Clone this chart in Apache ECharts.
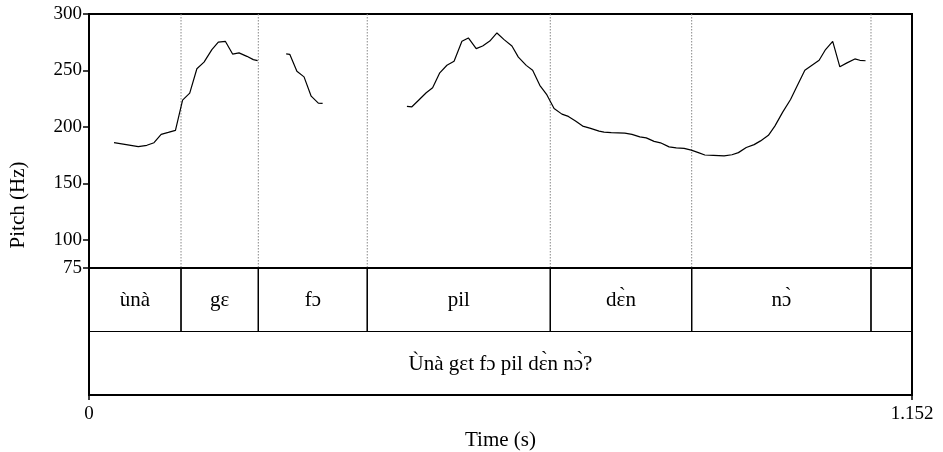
<!DOCTYPE html>
<html>
<head>
<meta charset="utf-8">
<script src="https://cdn.jsdelivr.net/npm/echarts@6/dist/echarts.min.js"></script>
<style>
html,body{margin:0;padding:0;background:#fff;}
#chart{width:943px;height:452px;}
</style>
</head>
<body>
<div id="chart"></div>
<script>
// ---- data ----
const timeMax = 1.152;
const yTicks = [75, 100, 150, 200, 250, 300];
const xTicks = [0, 1.152];

// pitch contour segments: [time (s), pitch (Hz)]
const pitchSeg1 = [[0.035,186.0],[0.050,184.5],[0.069,182.5],[0.081,183.7],[0.091,186.0],[0.101,193.4],[0.111,195.1],[0.121,196.9],[0.131,223.7],[0.141,229.9],[0.151,251.5],[0.161,257.4],[0.172,268.5],[0.181,275.1],[0.191,275.7],[0.201,264.5],[0.210,265.6],[0.221,262.5],[0.230,259.6],[0.236,258.7]];
const pitchSeg2 = [[0.276,264.7],[0.281,264.3],[0.291,249.2],[0.301,244.3],[0.311,227.2],[0.321,221.0],[0.327,220.8]];
const pitchSeg3 = [[0.445,218.1],[0.452,217.8],[0.461,223.4],[0.472,230.2],[0.481,234.6],[0.491,247.9],[0.501,254.6],[0.511,258.1],[0.522,275.8],[0.531,278.8],[0.542,269.3],[0.551,271.7],[0.561,276.0],[0.571,283.2],[0.581,277.3],[0.592,271.6],[0.601,261.8],[0.612,254.5],[0.621,250.2],[0.631,236.8],[0.641,228.3],[0.651,216.3],[0.662,211.3],[0.671,209.3],[0.681,205.3],[0.691,200.7],[0.701,198.9],[0.714,196.2],[0.721,195.4],[0.731,194.9],[0.750,194.5],[0.760,193.4],[0.771,191.2],[0.780,190.3],[0.791,187.2],[0.800,185.9],[0.812,182.3],[0.822,181.4],[0.833,181.0],[0.843,179.4],[0.853,177.2],[0.862,175.1],[0.874,174.8],[0.889,174.4],[0.900,175.3],[0.909,177.2],[0.920,181.7],[0.931,184.3],[0.940,187.6],[0.951,192.5],[0.960,200.7],[0.971,213.1],[0.982,224.3],[0.991,236.0],[1.002,250.2],[1.012,254.6],[1.022,259.0],[1.031,268.5],[1.041,275.8],[1.051,253.2],[1.061,256.7],[1.072,260.2],[1.079,259.0],[1.087,258.6]];

// word tier boundaries (s) and labels
const boundaries = [0.1288, 0.2370, 0.3895, 0.6457, 0.8436, 1.0946];
const wordLabels = ['\u00F9n\u00E0', 'g\u025B', 'f\u0254', 'pil', 'd\u025B\u0300n', 'n\u0254\u0300', ''];
const sentenceLabel = '\u00D9n\u00E0 g\u025Bt f\u0254 pil d\u025B\u0300n n\u0254\u0300?';
const axisTitles = { x: 'Time (s)', y: 'Pitch (Hz)' };

// ---- build ----
const FONT = "'Liberation Serif', 'DejaVu Serif', 'Times New Roman', serif";
const FS_TICK = 19;
const FS_TEXT = 21;

const starts = [0].concat(boundaries);
const ends = boundaries.concat([timeMax]);
const tierData = [];
const tierLabels = [];
for (let i = 0; i < starts.length; i++) {
  tierData.push([starts[i], ends[i], 1, 2]);
  tierLabels.push(wordLabels[i]);
}
tierData.push([0, timeMax, 0, 1]);
tierLabels.push(sentenceLabel);

const chart = echarts.init(document.getElementById('chart'), null, {renderer: 'canvas'});

function pitchSeries(data) {
  return {
    type: 'line',
    xAxisIndex: 0,
    yAxisIndex: 0,
    data: data,
    showSymbol: false,
    symbol: 'none',
    lineStyle: {color: '#000', width: 1.2},
    silent: true,
    z: 5
  };
}

const option = {
  animation: false,
  backgroundColor: '#fff',
  grid: [
    {left: 89, top: 14, width: 823, height: 254, show: true, borderColor: '#000', borderWidth: 2, backgroundColor: 'transparent'},
    {left: 89, top: 268, width: 823, height: 127, show: true, borderColor: '#000', borderWidth: 2, backgroundColor: 'transparent'}
  ],
  xAxis: [
    {gridIndex: 0, type: 'value', min: 0, max: timeMax, show: false},
    {
      gridIndex: 1, type: 'value', min: 0, max: timeMax,
      axisLine: {show: true, lineStyle: {color: '#000', width: 2}},
      axisTick: {show: true, customValues: xTicks, length: 5, lineStyle: {color: '#000', width: 1.5}},
      axisLabel: {show: true, customValues: xTicks, showMinLabel: true, showMaxLabel: true, margin: 10, color: '#000', fontFamily: FONT, fontSize: FS_TICK},
      splitLine: {show: false},
      name: axisTitles.x, nameLocation: 'middle', nameGap: 35,
      nameTextStyle: {color: '#000', fontFamily: FONT, fontSize: FS_TEXT}
    }
  ],
  yAxis: [
    {
      gridIndex: 0, type: 'value', min: 75, max: 300,
      axisLine: {show: true, lineStyle: {color: '#000', width: 2}},
      axisTick: {show: true, customValues: yTicks, length: 6, lineStyle: {color: '#000', width: 1.5}},
      axisLabel: {show: true, customValues: yTicks, showMinLabel: true, showMaxLabel: true, margin: 7, color: '#000', fontFamily: FONT, fontSize: FS_TICK},
      splitLine: {show: false}
    },
    {gridIndex: 1, type: 'value', min: 0, max: 2, show: false}
  ],
  graphic: [
    {
      type: 'text',
      x: 18, y: 205,
      rotation: Math.PI / 2,
      style: {text: axisTitles.y, fill: '#000', font: FS_TEXT + 'px ' + FONT, align: 'center', verticalAlign: 'middle'}
    }
  ],
  series: [
    {
      type: 'custom',
      xAxisIndex: 0,
      yAxisIndex: 0,
      silent: true,
      z: 1,
      data: boundaries.map(b => [b]),
      encode: {x: 0},
      renderItem: function (params, api) {
        const t = api.value(0);
        const a = api.coord([t, 300]);
        const b = api.coord([t, 75]);
        return {
          type: 'line',
          shape: {x1: a[0], y1: a[1], x2: b[0], y2: b[1]},
          style: {stroke: '#888', lineWidth: 1, lineDash: [1.5, 1.5]}
        };
      }
    },
    pitchSeries(pitchSeg1),
    pitchSeries(pitchSeg2),
    pitchSeries(pitchSeg3),
    {
      type: 'custom',
      xAxisIndex: 1,
      yAxisIndex: 1,
      silent: true,
      encode: {x: [0, 1], y: [2, 3]},
      data: tierData,
      renderItem: function (params, api) {
        const s = api.value(0), e = api.value(1), lo = api.value(2), hi = api.value(3);
        const p0 = api.coord([s, hi]);
        const p1 = api.coord([e, lo]);
        const label = tierLabels[params.dataIndex];
        return {
          type: 'group',
          children: [
            {type: 'rect', shape: {x: p0[0], y: p0[1], width: p1[0] - p0[0], height: p1[1] - p0[1]},
             style: {fill: 'none', stroke: '#000', lineWidth: 1.2}},
            {type: 'text', style: {text: label, x: (p0[0] + p1[0]) / 2, y: (p0[1] + p1[1]) / 2 + 1,
             align: 'center', verticalAlign: 'middle', textAlign: 'center', textVerticalAlign: 'middle',
             fill: '#000', font: FS_TEXT + 'px ' + FONT}}
          ]
        };
      }
    }
  ]
};
chart.setOption(option);
</script>
</body>
</html>
